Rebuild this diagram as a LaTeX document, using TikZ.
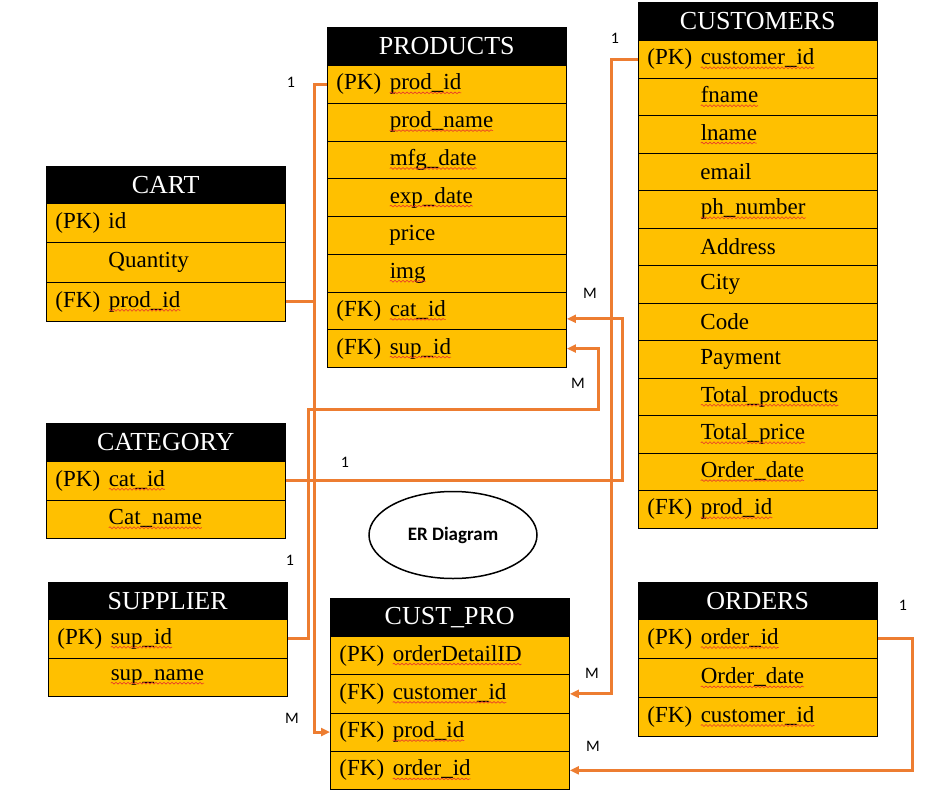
\documentclass[tikz,border=0pt]{standalone}
\usepackage{fontspec}
\setmainfont{Liberation Serif}
\newfontfamily\cardfont{Carlito}
\usetikzlibrary{arrows.meta,shapes.geometric,positioning,decorations.pathmorphing}

\definecolor{gold}{HTML}{FFC000}
\definecolor{linkorange}{HTML}{ED7D31}
\definecolor{spellred}{HTML}{E8352B}
\newcommand{\keyPK}{\makebox[53pt][l]{(PK)}}
\newcommand{\keyFK}{\makebox[53pt][l]{(FK)}}
\newcommand{\keyNo}{\hspace*{53pt}}
% word with a spelling squiggle under it
\newcommand{\spell}[1]{\tikz[baseline=(spellw.base)]{%
  \node[inner sep=0pt,outer sep=0pt,draw=none,fill=none,minimum width=0pt,
    minimum height=0pt,text width={},anchor=base] (spellw) {#1};
  \draw[spellred,line width=0.6pt,decorate,decoration={snake,amplitude=0.9pt,
    segment length=4pt}] ([yshift=-3pt]spellw.base west) -- ([yshift=-3pt]spellw.base east);}}

\begin{document}
\begin{tikzpicture}[x=1pt,y=-1pt,
  head/.style={draw=black,fill=black,text=white,anchor=north west,minimum width=239pt,
    minimum height=38pt,inner sep=0pt,font=\fontsize{26}{28}\selectfont},
  row/.style={draw=black,fill=gold,anchor=north west,text width=221pt,inner xsep=9pt,
    inner ysep=0pt,align=left,line width=0.9pt,font=\fontsize{23}{25}\selectfont},
  link/.style={draw=linkorange,line width=3pt},
  tip/.style={-{Triangle[length=9pt,width=8pt]}},
  card/.style={font=\cardfont\fontsize{16}{18}\selectfont,inner sep=0pt}]
\useasboundingbox (0,0) rectangle (946,793);
%
% PRODUCTS
\node[head] (prod) at (327,27) {PRODUCTS};
\foreach \t [count=\i] in {{\keyPK \spell{prod\_id}},{\keyNo \spell{prod\_name}},
  {\keyNo \spell{mfg\_date}},{\keyNo \spell{exp\_date}},{\keyNo price},{\keyNo \spell{img}},
  {\keyFK \spell{cat\_id}},{\keyFK \spell{sup\_id}}}
\node[row,minimum height=37.75pt] (prod-\i) at (327,{65+(\i-1)*37.75}) {\t};
%
% CUSTOMERS
\node[head] (cust) at (638,2) {CUSTOMERS};
\foreach \t [count=\i] in {{\keyPK \spell{customer\_id}},{\keyNo \spell{fname}},
  {\keyNo \spell{lname}},{\keyNo email},{\keyNo \spell{ph\_number}},{\keyNo Address},
  {\keyNo City},{\keyNo Code},{\keyNo Payment},{\keyNo \spell{Total\_products}},
  {\keyNo \spell{Total\_price}},{\keyNo \spell{Order\_date}},{\keyFK \spell{prod\_id}}}
\node[row,minimum height=37.5pt] (cust-\i) at (638,{40+(\i-1)*37.5}) {\t};
%
% CART
\node[head,minimum height=37pt] (cart) at (46,166) {CART};
\foreach \t [count=\i] in {{\keyPK id},{\keyNo Quantity},{\keyFK \spell{prod\_id}}}
\node[row,minimum height=39.3pt] (cart-\i) at (46,{203+(\i-1)*39.3}) {\t};
%
% CATEGORY
\node[head] (cat) at (46,423) {CATEGORY};
\foreach \t [count=\i] in {{\keyPK \spell{cat\_id}},{\keyNo \spell{Cat\_name}}}
\node[row,minimum height=38.5pt] (cat-\i) at (46,{461+(\i-1)*38.5}) {\t};
%
% SUPPLIER
\node[head,minimum height=37pt] (sup) at (48,582) {SUPPLIER};
\foreach \t [count=\i] in {{\keyPK \spell{sup\_id}},{\keyNo \spell{sup\_name}}}
\node[row,minimum height=38.5pt] (sup-\i) at (48,{619+(\i-1)*38.5}) {\t};
%
% CUST_PRO
\node[head] (cp) at (330,598) {CUST\_PRO};
\foreach \t [count=\i] in {{\keyPK \spell{orderDetailID}},{\keyFK \spell{customer\_id}},
  {\keyFK \spell{prod\_id}},{\keyFK \spell{order\_id}}}
\node[row,minimum height=38.25pt] (cp-\i) at (330,{636+(\i-1)*38.25}) {\t};
%
% ORDERS
\node[head,minimum height=37pt] (ord) at (638,582) {ORDERS};
\foreach \t [count=\i] in {{\keyPK \spell{order\_id}},{\keyNo \spell{Order\_date}},
  {\keyFK \spell{customer\_id}}}
\node[row,minimum height=39pt] (ord-\i) at (638,{619+(\i-1)*39}) {\t};
%
\node[ellipse,draw,line width=1.5pt,minimum width=168pt,minimum height=87pt,
  font=\cardfont\bfseries\fontsize{19}{21}\selectfont] (er) at (453,535) {ER Diagram};
%
% relations
\draw[link,tip] (prod-1.west) -- ++(-13,0) |- (cp-3.west);
\draw[link] (cart-3.east) -- ++(30,0);
\draw[link,tip] (sup-1.east) -| ++(21,-229) -| ([xshift=32pt]prod-8.east) -- (prod-8.east);
\draw[link,tip] (cat-1.east) -| ([xshift=56pt,yshift=-8pt]prod-7.east) -- ([yshift=-8pt]prod-7.east);
\draw[link,tip] (cust-1.west) -| ([xshift=42pt]cp-2.east) -- (cp-2.east);
\draw[link,tip] (ord-1.east) -| ([xshift=343pt]cp-4.east) -- (cp-4.east);
%
\node[card] (one-prod) at (291,82) {1};
\node[card] (m-prod) at (292,718) {M};
\node[card] (one-cust) at (615,38) {1};
\node[card] (m-cust) at (592,673) {M};
\node[card] (one-cat) at (345,462) {1};
\node[card] (m-cat) at (590,293) {M};
\node[card] (one-sup) at (290,560) {1};
\node[card] (m-sup) at (578,383) {M};
\node[card] (one-ord) at (903,605) {1};
\node[card] (m-ord) at (593,746) {M};
\end{tikzpicture}
\end{document}
